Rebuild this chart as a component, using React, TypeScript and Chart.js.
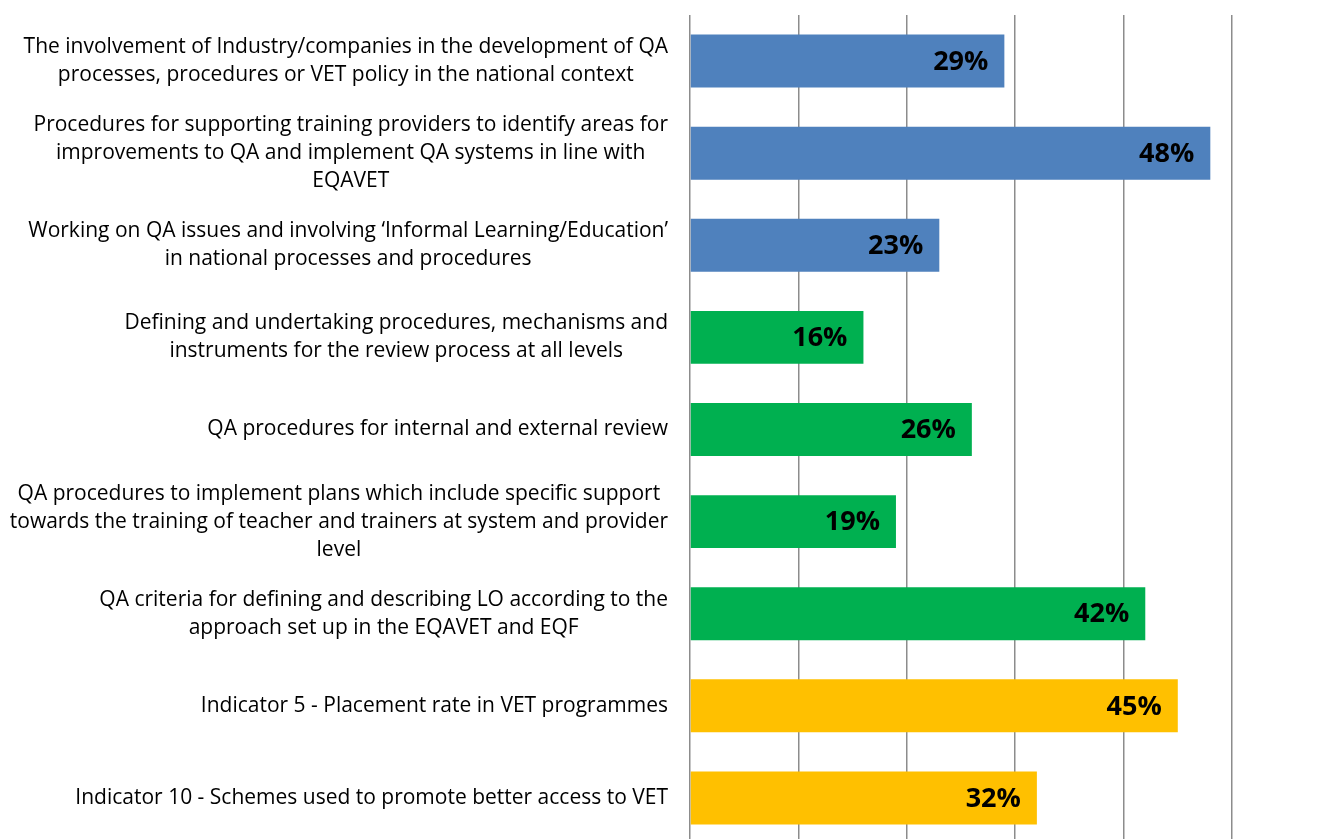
import React, { useEffect, useRef } from "react";
import { Chart, registerables } from "chart.js";

Chart.register(...registerables);

const categories: string[][] = [
  ["The involvement of Industry/companies in the development of QA", "processes, procedures or VET policy in the national context"],
  ["Procedures for supporting training providers to identify areas for", "improvements to QA and implement QA systems in line with", "EQAVET"],
  ["Working on QA issues and involving \u2018Informal Learning/Education\u2019", "in national processes and procedures"],
  ["Defining and undertaking procedures, mechanisms and", "instruments for the review process at all levels"],
  ["QA procedures for internal and external review"],
  ["QA procedures to implement plans which include specific support", "towards the training of teacher and trainers at system and provider", "level"],
  ["QA criteria for defining and describing LO according to the", "approach set up in the EQAVET and EQF"],
  ["Indicator 5 - Placement rate in VET programmes"],
  ["Indicator 10 - Schemes used to promote better access to VET"],
];

const values: number[] = [29, 48, 23, 16, 26, 19, 42, 45, 32];

const barColors: string[] = [
  "#4F81BD", "#4F81BD", "#4F81BD",
  "#00B050", "#00B050", "#00B050", "#00B050",
  "#FFC000", "#FFC000",
];

const LABEL_FONT = "21px 'Open Sans'";
const LABEL_LINE = 28;
const LABEL_RIGHT = 668;
const VALUE_FONT = "bold 27px 'Open Sans'";

const labelPlugin = {
  id: "customLabels",
  afterDraw(chart: any) {
    const ctx = chart.ctx;
    const yScale = chart.scales.y;
    ctx.save();
    ctx.fillStyle = "#000000";
    ctx.textBaseline = "middle";
    ctx.font = LABEL_FONT;
    categories.forEach((lines, i) => {
      const y = yScale.getPixelForValue(i);
      const maxW = Math.max(...lines.map((l) => ctx.measureText(l).width));
      const cx = LABEL_RIGHT - maxW / 2;
      ctx.textAlign = "center";
      lines.forEach((line, j) => {
        ctx.fillText(line, cx, y + (j - (lines.length - 1) / 2) * LABEL_LINE);
      });
    });
    const meta = chart.getDatasetMeta(0);
    ctx.font = VALUE_FONT;
    ctx.textAlign = "right";
    meta.data.forEach((bar: any, i: number) => {
      ctx.fillText(values[i] + "%", bar.x - 16, bar.y + 1);
    });
    ctx.restore();
  },
};

export default function App() {
  const ref = useRef<HTMLCanvasElement>(null);
  useEffect(() => {
    if (!ref.current) return;
    const chart = new Chart(ref.current, {
      type: "bar",
      data: {
        labels: categories.map((_, i) => String(i)),
        datasets: [
          {
            data: values,
            backgroundColor: barColors,
            borderWidth: 0,
            categoryPercentage: 1,
            barPercentage: 0.575,
          },
        ],
      },
      options: {
        indexAxis: "y",
        responsive: false,
        animation: false,
        layout: { padding: { left: 690, right: 96, top: 15, bottom: 0 } },
        plugins: { legend: { display: false }, tooltip: { enabled: false } },
        scales: {
          x: {
            min: 0,
            max: 50,
            ticks: { display: false, stepSize: 10 },
            grid: { color: "#8c8c8c", lineWidth: 1.5, drawTicks: false },
            border: { display: false },
          },
          y: {
            ticks: { display: false },
            grid: { display: false, drawTicks: false },
            border: { display: false },
          },
        },
      },
      plugins: [labelPlugin],
    });
    return () => chart.destroy();
  }, []);
  return (
    <div style={{ position: "absolute", left: 0, top: 0, width: 1328, height: 844 }}>
      <canvas ref={ref} width={1328} height={844} />
    </div>
  );
}
